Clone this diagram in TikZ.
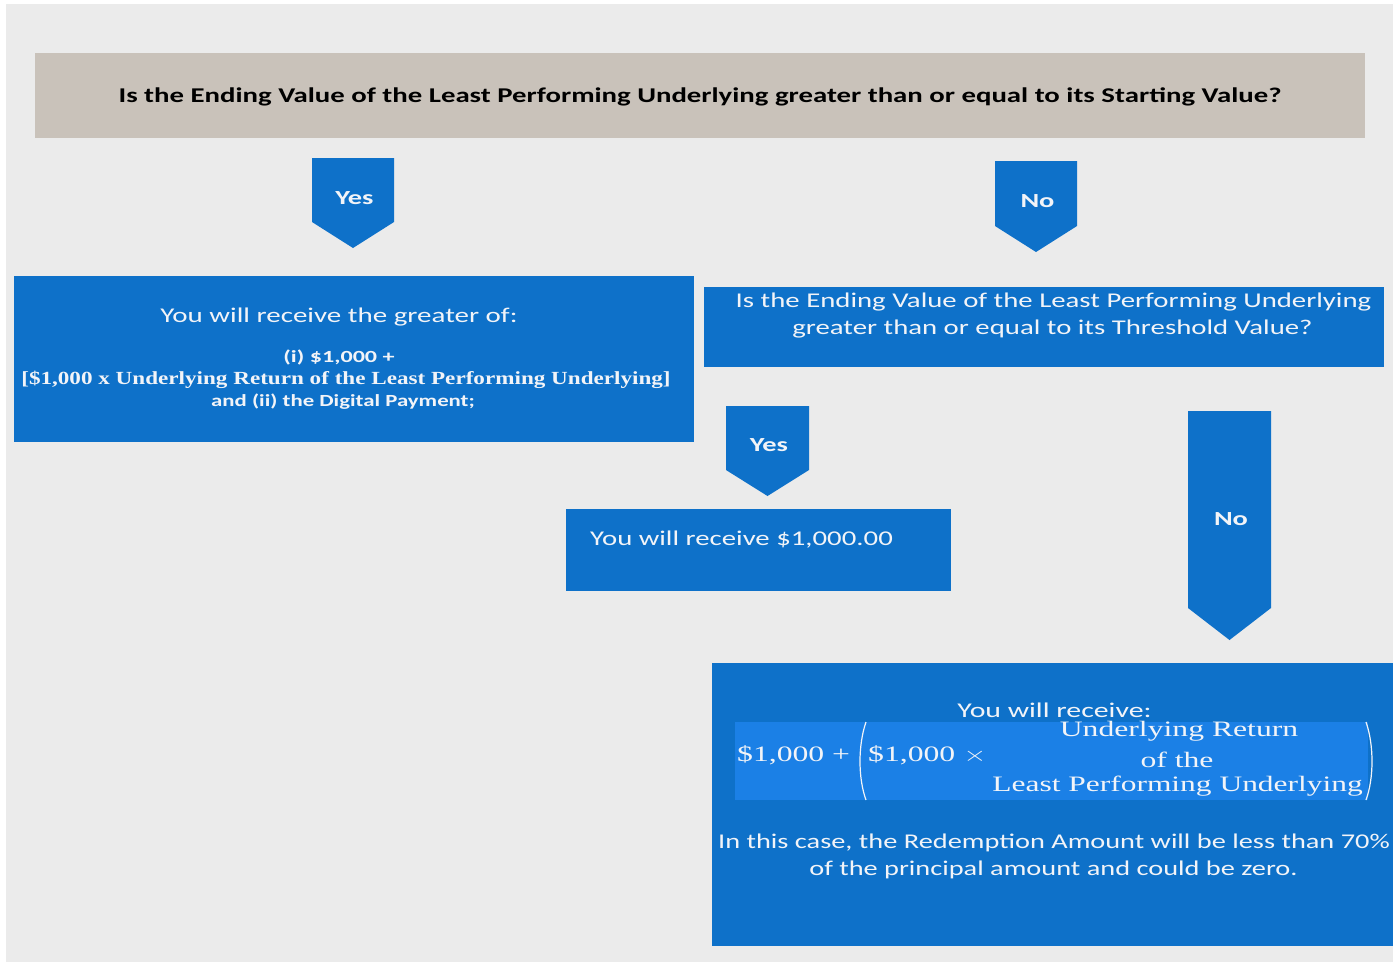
\documentclass[tikz,border=0pt]{standalone}
\usepackage{graphicx}
\usepackage{fontspec}
\setmainfont{Carlito}
\newfontfamily\serifb{Liberation Serif}
\definecolor{bg}{HTML}{EBEBEB}
\definecolor{taupe}{HTML}{C9C2BA}
\definecolor{blu}{HTML}{0E71C9}
\definecolor{blu2}{HTML}{1B80E6}
\definecolor{txt}{HTML}{F2F4F8}
\newcommand\fs[1]{\fontsize{#1}{#1}\selectfont}
\newcommand\sx[2]{\scalebox{#1}[1]{#2}}
\tikzset{
  box/.style={fill=blu, draw=none, anchor=north west, inner sep=0pt},
  wtext/.style={text=txt, inner sep=0pt, align=center},
  arrowlbl/.style={text=txt, inner sep=0pt, font=\fs{20}\bfseries},
}
\newcommand\darrow[6]{% name, x1, x2, top, shoulder, tip
  \fill[blu] (#2,#4) -- (#3,#4) -- (#3,#5) -- ({(#2+#3)/2},#6) -- (#2,#5) -- cycle;
  \coordinate (#1) at ({(#2+#3)/2},#6);
}
\begin{document}
\begin{tikzpicture}[x=1pt,y=-1pt]
\fill[white] (0,0) rectangle (1400,962);
\fill[bg] (6,4) rectangle (1393,962);
\useasboundingbox (0,0) rectangle (1400,962);

% top question
\node[box, fill=taupe, minimum width=1330pt, minimum height=85pt] (q1) at (35,53) {};
\node[inner sep=0pt, font=\fs{21}\bfseries] (q1t) at (700,97) {\sx{1.37}{Is the Ending Value of the Least Performing Underlying greater than or equal to its Starting Value?}};

% arrows
\darrow{a1}{312}{394}{158}{222}{248}
\node[arrowlbl] (a1t) at (354.5,198) {\sx{1.42}{Yes}};
\darrow{a2}{995}{1077}{161}{226}{252}
\node[arrowlbl] (a2t) at (1037.5,201) {\sx{1.42}{No}};

% left result
\node[box, minimum width=680pt, minimum height=166pt] (r1) at (14,276) {};
\node[wtext, font=\fs{21}] (r1a) at (339,317) {\sx{1.38}{You will receive the greater of:}};
\node[wtext, font=\fs{17}\bfseries] (r1b) at (339,357) {\sx{1.42}{(i) \$1,000 +}};
\node[wtext, font=\fs{18.5}\serifb\bfseries] (r1c) at (346,380) {\sx{1.25}{[\$1,000 x Underlying Return of the Least Performing Underlying]}};
\node[wtext, font=\fs{17}\bfseries] (r1d) at (343,402) {\sx{1.34}{and (ii) the Digital Payment;}};

% right question
\node[box, minimum width=680pt, minimum height=80pt] (q2) at (704,287) {};
\node[wtext, font=\fs{21}] (q2a) at (1053.5,302) {\sx{1.37}{Is the Ending Value of the Least Performing Underlying}};
\node[wtext, font=\fs{21}] (q2b) at (1052.5,329) {\sx{1.37}{greater than or equal to its Threshold Value?}};

% second arrows
\darrow{a3}{726}{809}{406}{470}{496}
\node[arrowlbl] (a3t) at (769,445) {\sx{1.42}{Yes}};
\darrow{a4}{1188}{1271}{411}{608}{640}
\node[arrowlbl] (a4t) at (1231,519) {\sx{1.42}{No}};

% middle result
\node[box, minimum width=385pt, minimum height=82pt] (r2) at (566,509) {};
\node[wtext, font=\fs{21}, anchor=west] (r2t) at (590,540) {\sx{1.37}{You will receive \$1,000.00}};

% bottom result
\node[box, minimum width=681pt, minimum height=283pt] (r3) at (712,663) {};
\node[box, fill=blu2, minimum width=633pt, minimum height=78pt] (band) at (735,722) {};
\node[wtext, font=\fs{21}] (r3a) at (1054.5,710) {\sx{1.42}{You will receive:}};
\node[wtext, font=\fs{22}\serifb, anchor=west] (f1) at (737,755) {\sx{1.44}{\$1,000 +}};
\node[wtext, font=\fs{22}\serifb, anchor=west] (f2) at (868,755) {\sx{1.44}{\$1,000 $\times$}};
\node[wtext, font=\fs{22}\serifb] (f3) at (1179,731) {\sx{1.44}{Underlying Return}};
\node[wtext, font=\fs{22}\serifb] (f4) at (1177,760) {\sx{1.44}{of the}};
\node[wtext, font=\fs{22}\serifb, anchor=east] (f5) at (1363,786) {\sx{1.43}{Least Performing Underlying}};
\draw[txt, line width=1.2pt] (866,722) .. controls (858,745) and (858,778) .. (866,800);
\draw[txt, line width=1.2pt] (1366,722) .. controls (1374,745) and (1374,778) .. (1366,800);
\node[wtext, font=\fs{21}] (r3b) at (1054,843) {\sx{1.35}{In this case, the Redemption Amount will be less than 70\%}};
\node[wtext, font=\fs{21}] (r3c) at (1053.5,870) {\sx{1.35}{of the principal amount and could be zero.}};
\end{tikzpicture}
\end{document}
